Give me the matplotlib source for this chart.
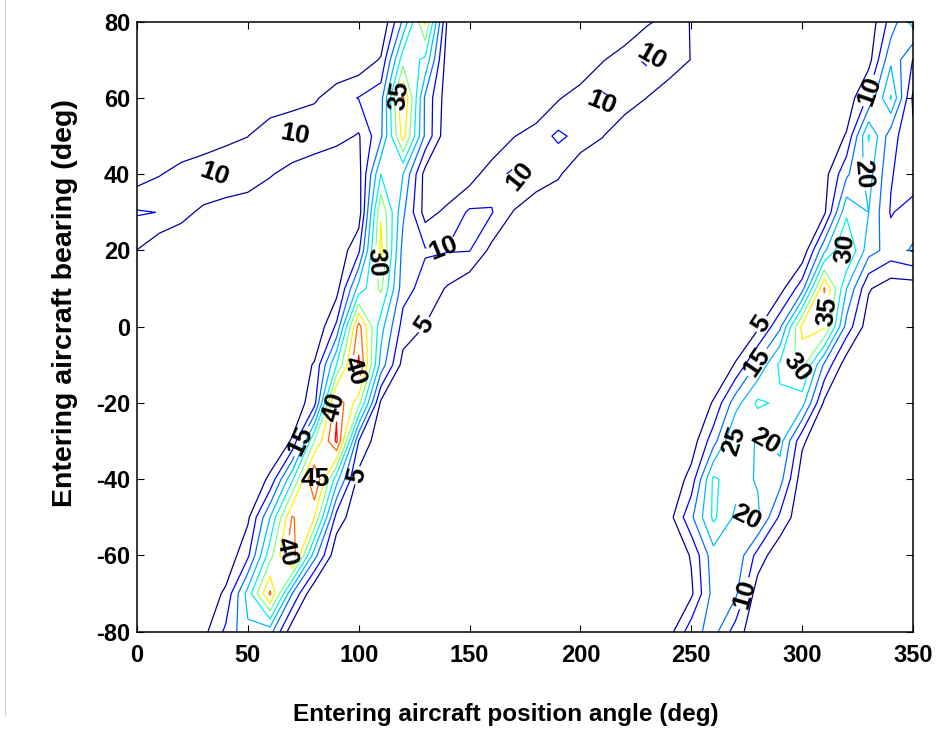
"""Contour map: conflict level vs entering aircraft position angle and bearing."""

import matplotlib
matplotlib.use("Agg")
import matplotlib.pyplot as plt
import numpy as np
from matplotlib.lines import Line2D

# grid axes
position_angle = [0, 10, 20, 30, 40, 50, 60, 70, 80, 90,
                  100, 110, 120, 130, 140, 150, 160, 170, 180, 190,
                  200, 210, 220, 230, 240, 250, 260, 270, 280, 290,
                  300, 310, 320, 330, 340, 350]
bearing = [-80, -70, -60, -50, -40, -30, -20, -10, 0,
           10, 20, 30, 40, 50, 60, 70, 80]

# values, one row per bearing (along position_angle)
z_m80 = [0, 0, 0, 3.5, 11, 19, 17, 1.5, 0, 0,  0, 0, 0, 0, 0, 0, 0, 0, 0, 0,
         0, 0, 0, 0, 3, 13, 17, 7.5, 1, 0,  0, 0, 0, 0, 0, 0]
z_m70 = [0, 0, 0, 1, 6, 22, 41, 15, 0, 0,  0, 0, 0, 0, 0, 0, 0, 0, 0, 0,
         0, 0, 0, 0, 0, 4, 17, 16, 2, 0,  0, 0, 0, 0, 0, 0]
z_m60 = [0, 0, 0, 0, 1, 9, 28, 44, 17, 1,  0, 0, 0, 0, 0, 0, 0, 0, 0, 0,
         0, 0, 0, 0, 0, 5.5, 18, 19, 8, 1,  0, 0, 0, 0, 0, 0]
z_m50 = [0, 0, 0, 0, 0, 4, 20, 40.5, 35, 8,  1, 0, 0, 0, 0, 0, 0, 0, 0, 0,
         0, 0, 0, 0, 3, 14, 26, 19, 21, 9,  1, 0, 0, 0, 0, 0]
z_m40 = [0, 0, 0, 0, 0, 0.5, 6, 24, 46, 22,  3, 0, 0, 0, 0, 0, 0, 0, 0, 0,
         0, 0, 0, 0, 0.5, 7, 26, 22, 19.5, 17,  2, 0, 0, 0, 0, 0]
z_m30 = [0, 0, 0, 0, 0, 0, 0.5, 5.5, 30, 46,  10, 1, 0, 0, 0, 0, 0, 0, 0, 0,
         0, 0, 0, 0, 0, 2, 13, 26, 19, 22,  6, 0, 0, 0, 0, 0]
z_m20 = [0, 0, 0, 0, 0, 0, 0, 1, 8, 44,  32, 4, 0.5, 0, 0, 0, 0, 0, 0, 0,
         0, 0, 0, 0, 0, 0, 5.5, 18, 26, 24,  22, 4, 0, 0, 0, 0]
z_m10 = [0, 0, 0, 0, 0, 0, 0, 1, 5.5, 25,  46, 18, 3, 0.5, 0, 0, 0, 0, 0, 0,
         0, 0, 0, 0, 0, 0, 0, 5.5, 16, 26,  32, 14, 2, 0, 0, 0]
z_0 = [0, 0, 0, 0, 0, 0, 0, 0, 0, 11,  42, 22, 8, 4.8, 1, 0, 0, 0, 0, 0,
       0, 0, 0, 0, 0, 0, 0, 0, 4, 14,  36.5, 36, 13, 2, 0, 0]
z_p10 = [1, 0, 0, 0, 0, 0, 0, 0, 0, 3,  22, 31, 12, 8, 4.5, 1, 0, 0, 0, 0,
         0, 0, 0, 0, 0, 0, 0, 0, 0, 3,  13, 40.5, 20, 5.5, 2, 2]
z_p20 = [4.9, 1, 0.5, 0, 0, 0, 0, 0, 0, 1,  9, 36.5, 13, 10.5, 10.3, 10.2, 3.5, 0, 0, 0,
         0, 0, 0, 0, 0, 0, 0, 0, 0, 0,  1, 19, 31, 17, 13, 15.5]
z_p30 = [10.5, 9.9, 6.8, 3.7, 2, 0, 0, 0, 0, 0,  2, 34.5, 16, 3, 6.3, 10.8, 10.3, 4.6, 1, 0,
         0, 0, 0, 0, 0, 0, 0, 0, 0, 0,  0, 4, 24, 20, 9.5, 13]
z_p40 = [2.4, 4.7, 6.8, 10.3, 9.8, 9.5, 5.5, 2.7, 0, 0,  3, 25, 20, 3, 0, 2.5, 8, 11, 8.5, 5.8,
         0.5, 0, 0, 0, 0, 0, 0, 0, 0, 0,  0.5, 3, 14, 22, 10.5, 6]
z_p50 = [0.5, 0.5, 1, 0, 3.3, 4.9, 9.5, 10.3, 9.5, 6.8,  4.5, 14, 37, 14, 1, 0, 0, 4.8, 7.5, 11,
         8.5, 5.2, 0.5, 0, 0, 0, 0, 0, 0, 0,  0, 0.5, 5.5, 25.5, 12, 6]
z_p60 = [0, 0, 0, 0, 0, 0.5, 0, 2.2, 4.2, 8,  10.2, 13, 41, 14, 2, 0, 0, 0, 0, 4.5,
         7.8, 11, 8.5, 4.9, 1.5, 0.5, 0, 0, 0, 0,  0, 0, 1.5, 11, 25.5, 4]
z_p70 = [0, 0, 0, 0, 0, 0, 0, 0, 0, 0,  1.5, 5.5, 28, 24, 2, 0, 0, 0, 0, 0,
         0, 4.6, 8, 11, 8.5, 4.8, 0, 0, 0, 0,  0, 0, 0, 3, 19, 9.8]
z_p80 = [0, 0, 0, 0, 0, 0, 0, 0, 0, 0,  0, 0, 16, 36, 4, 0, 0, 0, 0, 0,
         0, 0, 0, 4.2, 7, 4.8, 0, 0, 0, 0,  0, 0, 0, 1.5, 12, 22]

levels = [5, 10, 15, 20, 25, 30, 35, 40, 45]
level_colors = ["#000099", "#0000FF", "#0070FF", "#00B8FF", "#00EEEE",
                "#80FF80", "#FFEE00", "#FF6600", "#FF0000"]

plt.rcParams["font.family"] = ["Liberation Sans", "DejaVu Sans"]
plt.rcParams["font.weight"] = "bold"
plt.rcParams["axes.unicode_minus"] = False

Z = np.array([z_m80, z_m70, z_m60, z_m50, z_m40, z_m30, z_m20, z_m10, z_0,
              z_p10, z_p20, z_p30, z_p40, z_p50, z_p60, z_p70, z_p80])

fig = plt.figure(figsize=(9.37, 7.31), dpi=100)
ax = fig.add_axes([0.1462, 0.1358, 0.8282, 0.8345])

cs = ax.contour(position_angle, bearing, Z, levels=levels,
                colors=level_colors, linewidths=0.9)

# spots where the labels sit on the reference
label_spots = [(35, 40.2), (71, 50), (118.2, 60.5), (107.5, 17), (138, 21.5),
               (129.5, 0.5), (172, 40), (210, 59), (231, 70),
               (96.5, -12), (89, -21), (74, -30), (80, -40), (99.5, -39),
               (68, -59), (329.5, 62), (327.5, 40), (319.3, 20.5), (312, 4),
               (281, 1), (279, -9), (297, -11), (269.5, -30), (283.5, -30),
               (275, -50), (274.3, -70)]
texts = ax.clabel(cs, manual=label_spots, inline=True, inline_spacing=2,
                  fontsize=19, colors="k", fmt="%d")
for t in texts:
    t.set_fontweight("bold")

ax.set_xlim(0, 350)
ax.set_ylim(-80, 80)
ax.set_xticks([0, 50, 100, 150, 200, 250, 300, 350])
ax.set_yticks([-80, -60, -40, -20, 0, 20, 40, 60, 80])
ax.tick_params(direction="in", top=True, right=True, length=5, width=0.8,
               labelsize=17)
ax.tick_params(axis="x", pad=9)
ax.tick_params(axis="y", pad=5)
for s in ax.spines.values():
    s.set_linewidth(1.1)

ax.set_xlabel("Entering aircraft position angle (deg)", fontsize=17.5,
              fontweight="bold")
ax.set_ylabel("Entering aircraft bearing (deg)", fontsize=20.5,
              fontweight="bold")
ax.xaxis.set_label_coords(0.4755, -0.117)
ax.yaxis.set_label_coords(-0.076, 0.539)

# thin grey rule at the far left of the page
fig.add_artist(Line2D([5 / 937, 5 / 937], [1.0, 1 - 715 / 731],
                      color="#d0d0d0", linewidth=0.8))

fig.savefig("out.png", dpi=100)
plt.close(fig)
